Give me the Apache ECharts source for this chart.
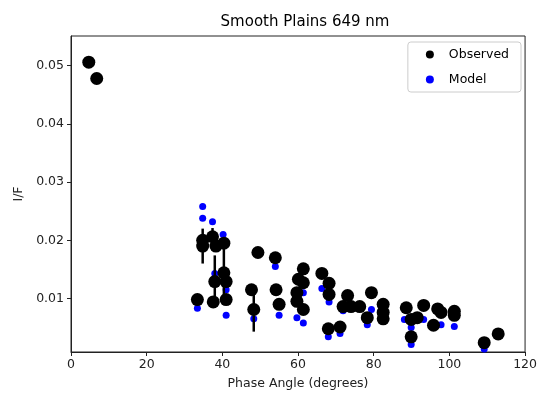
<!DOCTYPE html>
<html>
<head>
<meta charset="utf-8">
<script src="https://cdn.jsdelivr.net/npm/echarts@6/dist/echarts.min.js"></script>
<style>html,body{margin:0;padding:0;background:#fff}#c{width:540px;height:396px}</style>
</head>
<body>
<div id="c"></div>
<script>
// Observed points: phase angle, I/F, error half-width
const obsX = [4.7, 6.8, 33.4, 34.8, 34.8, 37.4, 38.0, 37.6, 38.3, 40.4, 40.4, 41.0, 41.0,
  47.7, 48.3, 49.4, 54.0, 54.2, 55.0, 61.4, 60.1, 61.4, 59.7, 59.7, 61.4,
  66.3, 68.2, 68.2, 68.0, 71.1, 73.1, 71.9, 74.0, 76.3, 79.4, 78.3,
  82.5, 82.5, 82.5, 88.6, 89.9, 89.9, 91.5, 93.2, 96.9, 97.8, 95.8,
  101.3, 101.3, 109.2, 112.9];
const obsY = [0.0506, 0.0478, 0.0098, 0.0200, 0.0190, 0.0206, 0.0129, 0.0094, 0.0190, 0.0195, 0.0144, 0.0129, 0.0098,
  0.0115, 0.0081, 0.0179, 0.0170, 0.0115, 0.0090, 0.0151, 0.0133, 0.0127, 0.0110, 0.0095, 0.0081,
  0.0143, 0.0126, 0.0107, 0.0048, 0.0051, 0.0105, 0.0086, 0.0086, 0.0086, 0.0110, 0.0067,
  0.0090, 0.0076, 0.0065, 0.0084, 0.0064, 0.0034, 0.0067, 0.0088, 0.0082, 0.0076, 0.0054,
  0.0078, 0.0071, 0.0024, 0.0039];
const obsErr = [0.0003, 0.0005, 0.0003, 0.0003, 0.0030, 0.0015, 0.0045, 0.0003, 0.0003, 0.0003, 0.0049, 0.0003, 0.0003,
  0.0003, 0.0038, 0.0008, 0.0005, 0.0008, 0.0003, 0.0003, 0.0003, 0.0003, 0.0003, 0.0003, 0.0003,
  0.0003, 0.0003, 0.0003, 0.0008, 0.0003, 0.0003, 0.0003, 0.0003, 0.0003, 0.0003, 0.0003,
  0.0005, 0.0003, 0.0003, 0.0003, 0.0003, 0.0005, 0.0003, 0.0003, 0.0003, 0.0003, 0.0003,
  0.0003, 0.0003, 0.0003, 0.0003];
// Model points
const modX = [4.7, 6.8, 34.8, 34.8, 37.4, 40.2, 38.0, 41.0, 33.4, 41.0, 48.3, 54.0, 55.0,
  61.4, 59.7, 61.4, 66.3, 68.2, 68.0, 71.1, 71.9, 79.4, 78.3, 88.1, 89.9, 89.9,
  93.2, 96.0, 97.8, 101.3, 109.2];
const modY = [0.0505, 0.0478, 0.0258, 0.0238, 0.0232, 0.0210, 0.0143, 0.0115, 0.0083, 0.0071, 0.0065, 0.0155, 0.0071,
  0.0110, 0.0067, 0.0058, 0.0117, 0.0094, 0.0034, 0.0040, 0.0079, 0.0081, 0.0055, 0.0064, 0.0050, 0.0021,
  0.0064, 0.0052, 0.0055, 0.0052, 0.0013];
const xTicks = [0, 20, 40, 60, 80, 100, 120];
const yTicks = [0.01, 0.02, 0.03, 0.04, 0.05];

const obsData = obsX.map((x, i) => [x, obsY[i]]);
const errData = obsX.map((x, i) => [x, obsY[i] - obsErr[i], obsY[i] + obsErr[i]]);
const modData = modX.map((x, i) => [x, modY[i]]);

const font = 'DejaVu Sans';
const chart = echarts.init(document.getElementById('c'), null, {renderer: 'canvas'});
chart.setOption({
  animation: false,
  title: {
    text: 'Smooth Plains 649 nm', left: 300, top: 10, textAlign: 'center',
    textStyle: {fontFamily: font, fontSize: 15, fontWeight: 'normal', color: '#000'}
  },
  legend: {
    orient: 'vertical', right: 19, top: 42,
    data: ['Observed', 'Model'],
    icon: 'circle', itemWidth: 8, itemHeight: 10, itemGap: 12,
    padding: [6, 12, 6, 18],
    borderColor: '#ccc', borderWidth: 1, borderRadius: 3,
    textStyle: {fontFamily: font, fontSize: 12.5, color: '#000', padding: [0, 0, 0, 10]}
  },
  grid: {left: 71, right: 12, top: 36, bottom: 44, show: true, borderColor: '#222', borderWidth: 1},
  xAxis: {
    type: 'value', min: 0, max: 120, interval: 20,
    name: 'Phase Angle (degrees)', nameLocation: 'middle', nameGap: 25,
    nameTextStyle: {fontFamily: font, fontSize: 12.5, color: '#222'},
    axisLine: {lineStyle: {color: '#222'}},
    axisTick: {length: 4, lineStyle: {color: '#222'}, customValues: xTicks},
    axisLabel: {fontFamily: font, fontSize: 12.5, color: '#222', margin: 6, customValues: xTicks},
    splitLine: {show: false}
  },
  yAxis: {
    type: 'value', min: 0.0008, max: 0.0551,
    name: 'I/F', nameLocation: 'middle', nameGap: 46,
    nameTextStyle: {fontFamily: font, fontSize: 12.5, color: '#222'},
    axisLine: {show: true, lineStyle: {color: '#222'}},
    axisTick: {show: true, length: 4, lineStyle: {color: '#222'}, customValues: yTicks},
    axisLabel: {fontFamily: font, fontSize: 12.5, color: '#222', margin: 7, customValues: yTicks,
      formatter: v => v.toFixed(2)},
    splitLine: {show: false}
  },
  series: [
    {name: 'Model', type: 'scatter', data: modData, symbolSize: 7, itemStyle: {color: '#0000ff', opacity: 1}, z: 1},
    {name: 'err', type: 'custom', data: errData, z: 2,
      renderItem: function (params, api) {
        const p1 = api.coord([api.value(0), api.value(1)]);
        const p2 = api.coord([api.value(0), api.value(2)]);
        return {type: 'line', shape: {x1: p1[0], y1: p1[1], x2: p2[0], y2: p2[1]}, style: {stroke: '#000', lineWidth: 2.5}};
      }},
    {name: 'Observed', type: 'scatter', data: obsData, symbolSize: 13, itemStyle: {color: '#000', opacity: 1}, z: 3}
  ]
});
</script>
</body>
</html>
